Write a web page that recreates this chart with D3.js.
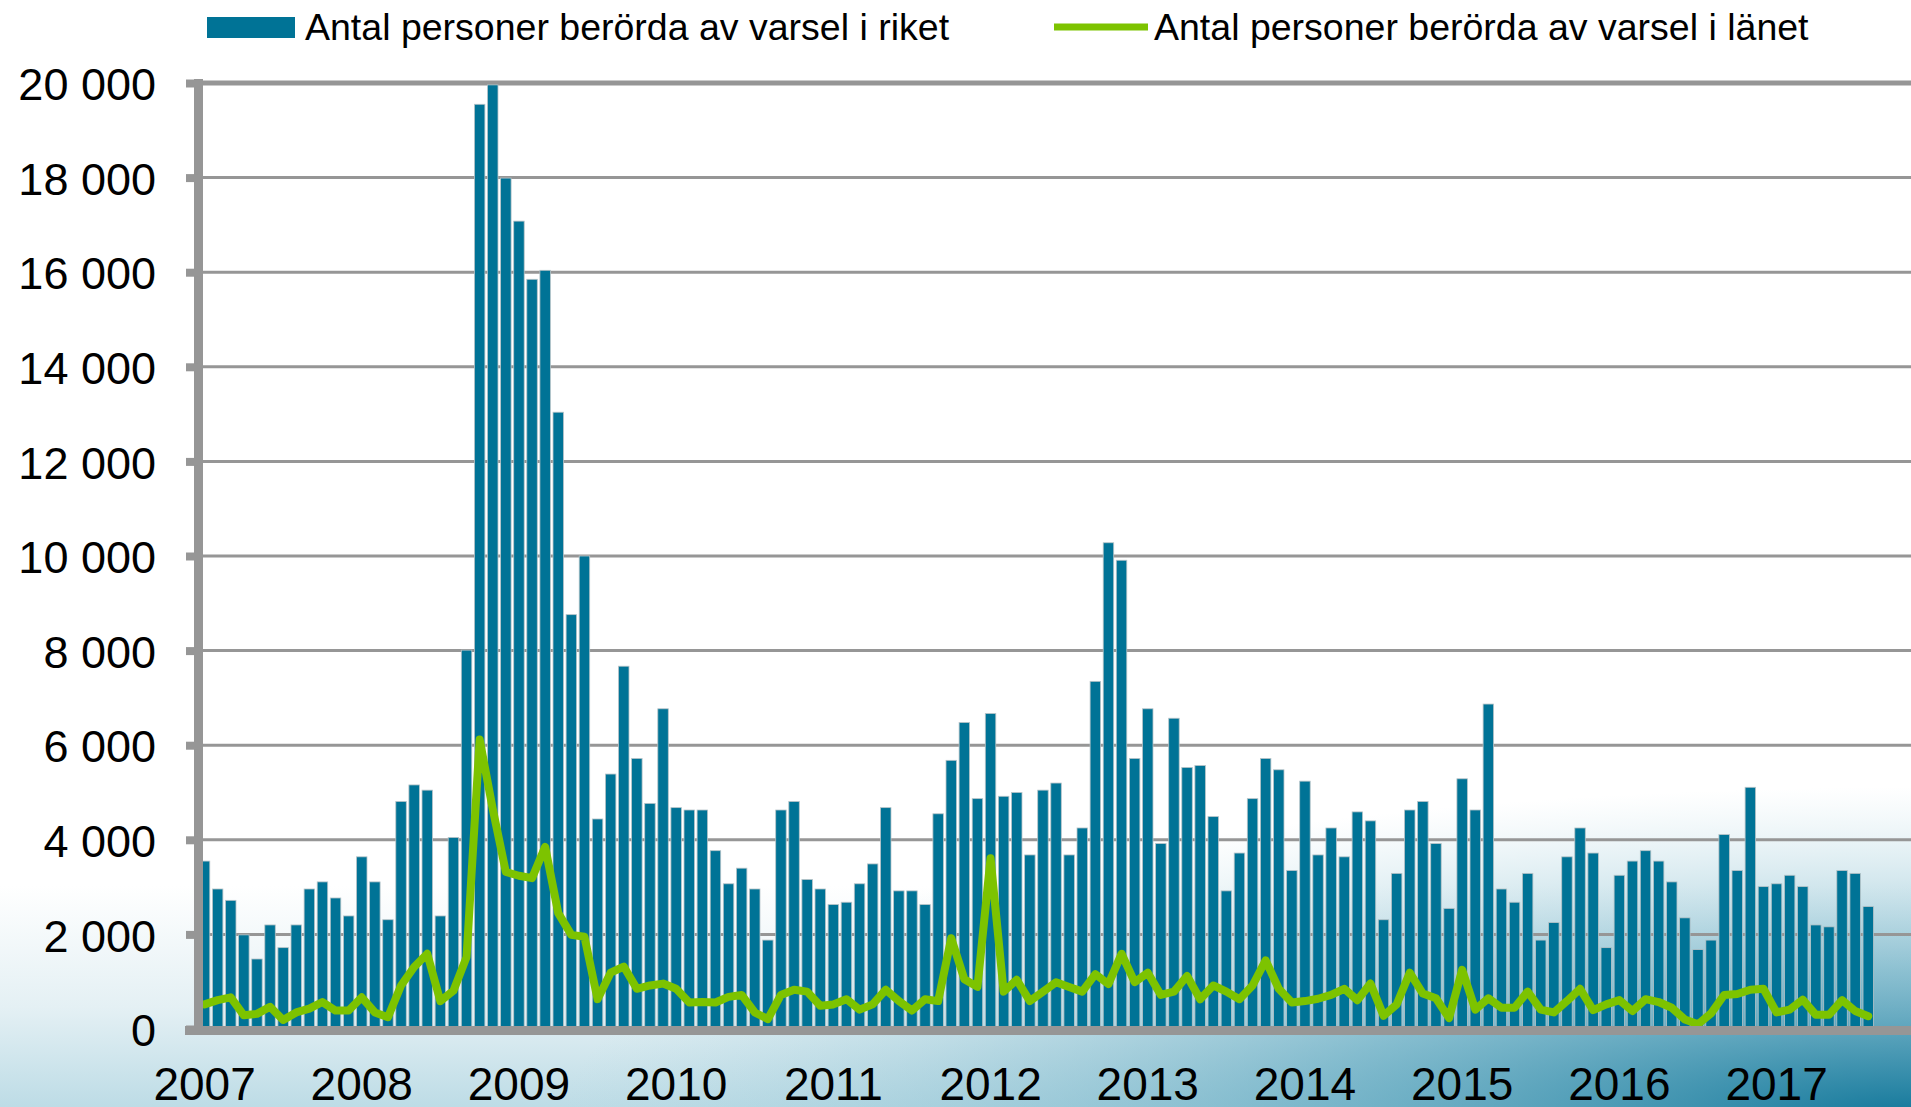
<!DOCTYPE html>
<html>
<head>
<meta charset="utf-8">
<script src="https://cdn.jsdelivr.net/npm/d3@7"></script>
<style>
  html, body { margin: 0; padding: 0; background: #fff; }
  svg { display: block; font-family: "Liberation Sans", Arial, sans-serif; }
</style>
</head>
<body>
<svg id="chart" width="1911" height="1107"></svg>
<script>
// ---- Data ----
const years = ["2007","2008","2009","2010","2011","2012","2013","2014","2015","2016","2017"];
const seriesNames = ["Antal personer berörda av varsel i riket", "Antal personer berörda av varsel i länet"];
const yTicks = [0, 2000, 4000, 6000, 8000, 10000, 12000, 14000, 16000, 18000, 20000];

// Monthly values, Jan 2007 – Aug 2017
const riket = [
  3550, 2960, 2720, 1990, 1480, 2200, 1720, 2200, 2960, 3110, 2770, 2390,
  3640, 3110, 2310, 4810, 5160, 5050, 2390, 4050, 8010, 19550, 19960, 17990,
  17080, 15850, 16040, 13040, 8760, 10000, 4440, 5390, 7670, 5720, 4770, 6770,
  4680, 4630, 4630, 3770, 3070, 3400, 2960, 1880, 4630, 4810, 3160, 2960,
  2630, 2680, 3070, 3490, 4680, 2920, 2920, 2630, 4550, 5680, 6480, 4870,
  6670, 4920, 5000, 3680, 5050, 5200, 3680, 4250, 7350, 10280, 9910, 5720,
  6770, 3920, 6570, 5530, 5570, 4490, 2920, 3720, 4870, 5720, 5480, 3350,
  5240, 3680, 4250, 3640, 4590, 4400, 2310, 3290, 4630, 4810, 3920, 2550,
  5290, 4630, 6870, 2960, 2680, 3290, 1880, 2250, 3640, 4250, 3720, 1720,
  3250, 3550, 3770, 3550, 3110, 2350, 1680, 1880, 4110, 3350, 5110, 3010,
  3070, 3250, 3010, 2200, 2160, 3350, 3290, 2590
];
const lanet = [
  520, 610, 670, 290, 320, 470, 190, 350, 430, 570, 390, 390,
  670, 350, 250, 920, 1310, 1590, 590, 810, 1520, 6120, 4650, 3320,
  3240, 3190, 3850, 2450, 1990, 1950, 630, 1190, 1320, 850, 920, 960,
  850, 560, 570, 560, 680, 720, 350, 210, 720, 830, 790, 490,
  520, 630, 410, 520, 830, 590, 390, 630, 590, 1920, 1050, 890,
  3610, 790, 1040, 590, 790, 990, 890, 790, 1160, 950, 1590, 990,
  1190, 720, 790, 1120, 630, 920, 790, 630, 920, 1450, 850, 560,
  590, 640, 720, 850, 610, 960, 280, 520, 1190, 750, 650, 230,
  1250, 410, 650, 450, 450, 790, 410, 350, 590, 850, 400, 520,
  610, 380, 630, 570, 450, 200, 100, 330, 720, 740, 830, 850,
  350, 410, 620, 300, 300, 610, 380, 270
];

// Category axis: every month of 2007–2017
const months = [];
years.forEach(y => { for (let m = 1; m <= 12; m++) months.push(y + "-" + String(m).padStart(2, "0")); });

// ---- Chart ----
const svg = d3.select("#chart");
const W = 1911, H = 1107;
const barColor = "#007396", lineColor = "#7dc300", axisColor = "#969696";

// background gradients
const defs = svg.append("defs");
const lg = defs.append("linearGradient").attr("id", "bgLin")
  .attr("gradientUnits", "userSpaceOnUse").attr("x1", 0).attr("y1", 0).attr("x2", 0).attr("y2", H);
lg.append("stop").attr("offset", "0").attr("stop-color", "#ffffff");
lg.append("stop").attr("offset", "0.8").attr("stop-color", "#ffffff");
lg.append("stop").attr("offset", "0.91").attr("stop-color", "#e4f0f4");
lg.append("stop").attr("offset", "1").attr("stop-color", "#bddce6");
const rg = defs.append("radialGradient").attr("id", "bgRad")
  .attr("gradientUnits", "userSpaceOnUse").attr("cx", W).attr("cy", H + 10).attr("r", 1)
  .attr("gradientTransform", `translate(${W},${H + 10}) scale(1350,330) translate(${-W},${-(H + 10)})`);
rg.append("stop").attr("offset", "0").attr("stop-color", "#12779a").attr("stop-opacity", 1);
rg.append("stop").attr("offset", "0.45").attr("stop-color", "#4f9fb9").attr("stop-opacity", 0.6);
rg.append("stop").attr("offset", "1").attr("stop-color", "#9ccbd9").attr("stop-opacity", 0);
svg.append("rect").attr("width", W).attr("height", H).attr("fill", "url(#bgLin)");
svg.append("rect").attr("width", W).attr("height", H).attr("fill", "url(#bgRad)");

const axisX0 = 198;
const pitch = 13.1;
const x = d3.scaleBand().domain(months).range([axisX0, axisX0 + pitch * months.length]).paddingInner(0.2).paddingOuter(0.1);
const y = d3.scaleLinear().domain([0, 20000]).range([1029, 83]);

// gridlines
svg.append("g").selectAll("line").data(yTicks.filter(t => t > 0)).join("line")
  .attr("x1", axisX0).attr("x2", W)
  .attr("y1", d => y(d)).attr("y2", d => y(d))
  .attr("stroke", axisColor).attr("stroke-width", d => d === 20000 ? 5 : 3);

// bars
svg.append("g").selectAll("rect").data(riket).join("rect")
  .attr("x", (d, i) => x(months[i]))
  .attr("width", x.bandwidth())
  .attr("y", d => y(d))
  .attr("height", d => y(0) - y(d))
  .attr("fill", barColor)
  .attr("stroke", "#b8c4c8").attr("stroke-width", 0.8);

// line
const line = d3.line().x((d, i) => x(months[i]) + x.bandwidth() / 2).y(d => y(d)).curve(d3.curveLinear);
svg.append("path").datum(lanet).attr("d", line)
  .attr("fill", "none").attr("stroke", lineColor).attr("stroke-width", 8)
  .attr("stroke-linejoin", "round").attr("stroke-linecap", "round");

// axes lines
svg.append("rect").attr("x", 185).attr("y", 1026).attr("width", W - 185).attr("height", 9).attr("fill", axisColor);
svg.append("rect").attr("x", 194).attr("y", 79).attr("width", 9).attr("height", 956).attr("fill", axisColor);

// y axis
const fmt = v => d3.format(",")(v).replace(/,/g, " ");
const yAxis = d3.axisLeft(y).tickValues(yTicks).tickFormat(fmt).tickSizeInner(12).tickSizeOuter(0).tickPadding(30);
const gy = svg.append("g").attr("transform", `translate(${axisX0},0)`).call(yAxis);
gy.select(".domain").remove();
gy.selectAll(".tick line").attr("stroke", axisColor).attr("stroke-width", 8);
gy.selectAll(".tick text").attr("font-size", 45).attr("fill", "#000").attr("dy", "0.37em")
  .attr("font-family", "Liberation Sans, Arial, sans-serif");

// x axis
const xAxis = d3.axisBottom(x).tickValues(years.map(yy => yy + "-01")).tickFormat(d => d.slice(0, 4)).tickSize(0);
const gx = svg.append("g").attr("transform", `translate(0,1031)`).call(xAxis);
gx.select(".domain").remove();
gx.selectAll(".tick text").attr("font-size", 46).attr("fill", "#000").attr("y", 69).attr("dy", null)
  .attr("font-family", "Liberation Sans, Arial, sans-serif");

// legend
const lgd = svg.append("g");
lgd.append("rect").attr("x", 207).attr("y", 17).attr("width", 88).attr("height", 21).attr("fill", barColor);
lgd.append("text").attr("x", 305).attr("y", 40).attr("font-size", 37.5).attr("fill", "#000").text(seriesNames[0]);
lgd.append("line").attr("x1", 1054).attr("x2", 1148).attr("y1", 27).attr("y2", 27)
  .attr("stroke", lineColor).attr("stroke-width", 7);
lgd.append("text").attr("x", 1154).attr("y", 40).attr("font-size", 37.5).attr("fill", "#000").text(seriesNames[1]);
</script>
</body>
</html>
